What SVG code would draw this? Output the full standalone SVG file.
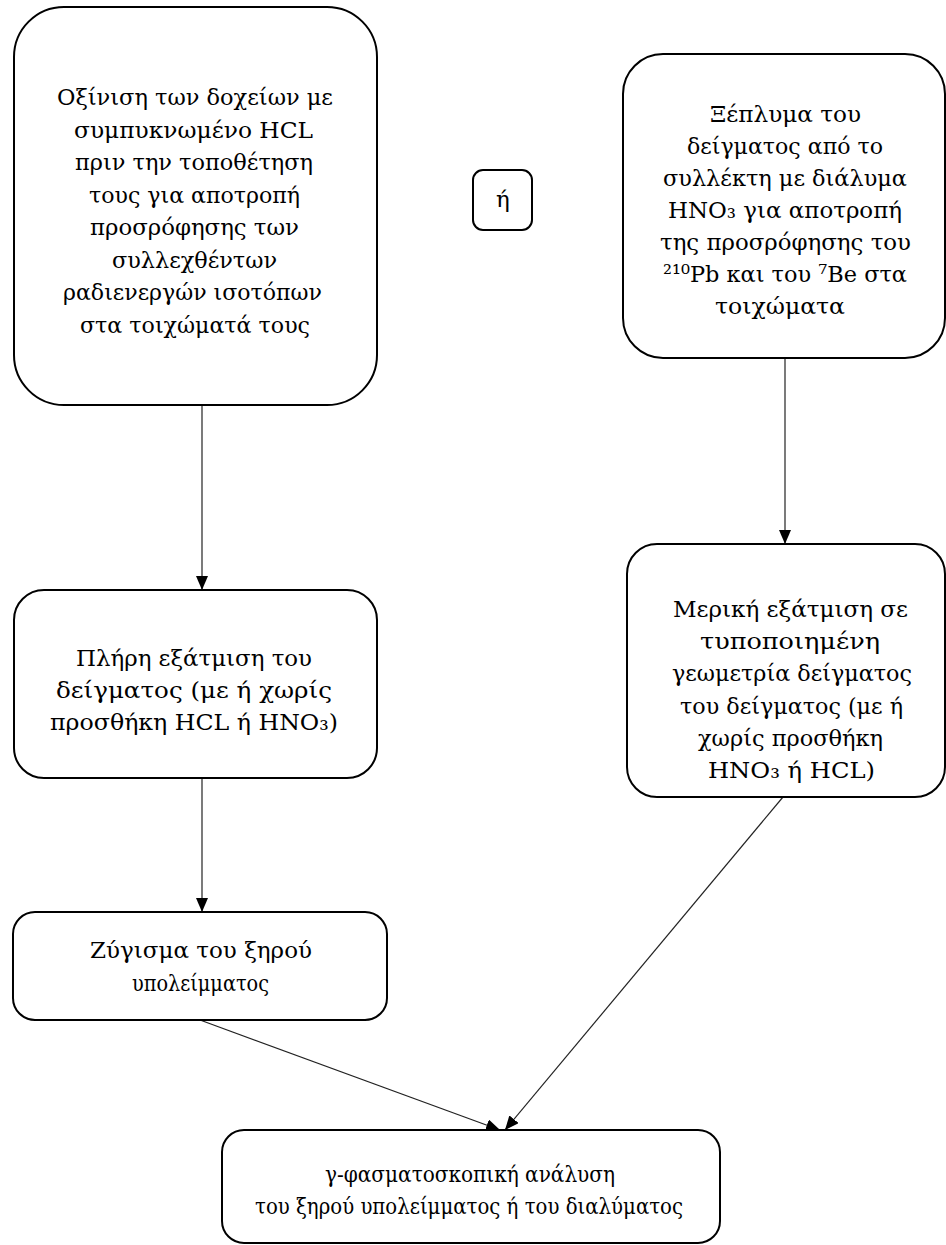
<svg xmlns="http://www.w3.org/2000/svg" width="946" height="1245" viewBox="0 0 946 1245">
<style>
.box{fill:#fff;stroke:#000;stroke-width:2}
.t{font-family:"DejaVu Serif","Liberation Serif",serif;font-size:23px;fill:#000}
.c{stroke:#222;stroke-width:1.2;fill:none}
</style>
<defs>
<marker id="arr" markerWidth="14" markerHeight="12" refX="14" refY="6" orient="auto" markerUnits="userSpaceOnUse">
<path d="M0,0 L14,6 L0,12 Z" fill="#000"/>
</marker>
</defs>
<rect width="946" height="1245" fill="#fff"/>
<g id="connectors">
<line class="c" x1="202" y1="405" x2="202" y2="590" marker-end="url(#arr)"/>
<line class="c" x1="785" y1="358" x2="785" y2="544" marker-end="url(#arr)"/>
<line class="c" x1="202" y1="778" x2="202" y2="912" marker-end="url(#arr)"/>
<line class="c" x1="200" y1="1020" x2="500" y2="1130" marker-end="url(#arr)"/>
<line class="c" x1="783" y1="797" x2="505" y2="1130" marker-end="url(#arr)"/>
</g>
<g id="n1">
<rect class="box" x="14" y="7" width="363" height="398" rx="50"/>
<text class="t" x="57" y="105" textLength="276" lengthAdjust="spacingAndGlyphs">Οξίνιση των δοχείων με</text>
<text class="t" x="74" y="137.5" textLength="239" lengthAdjust="spacingAndGlyphs">συμπυκνωμένο HCL</text>
<text class="t" x="75" y="170" textLength="238" lengthAdjust="spacingAndGlyphs">πριν την τοποθέτηση</text>
<text class="t" x="89" y="202.5" textLength="211" lengthAdjust="spacingAndGlyphs">τους για αποτροπή</text>
<text class="t" x="90" y="235" textLength="209" lengthAdjust="spacingAndGlyphs">προσρόφησης των</text>
<text class="t" x="112" y="267.5" textLength="165" lengthAdjust="spacingAndGlyphs">συλλεχθέντων</text>
<text class="t" x="63" y="300" textLength="259" lengthAdjust="spacingAndGlyphs">ραδιενεργών ισοτόπων</text>
<text class="t" x="80" y="332.5" textLength="230" lengthAdjust="spacingAndGlyphs">στα τοιχώματά τους</text>
</g>
<g id="n_or">
<rect class="box" x="473" y="170" width="59" height="60" rx="10"/>
<text class="t" x="503" y="207" text-anchor="middle">ή</text>
</g>
<g id="n2">
<rect class="box" x="623" y="54" width="322" height="304" rx="40"/>
<text class="t" x="710" y="122" textLength="151" lengthAdjust="spacingAndGlyphs">Ξέπλυμα του</text>
<text class="t" x="687" y="154" textLength="196" lengthAdjust="spacingAndGlyphs">δείγματος από το</text>
<text class="t" x="663" y="186" textLength="244" lengthAdjust="spacingAndGlyphs">συλλέκτη με διάλυμα</text>
<text class="t" x="668" y="218" textLength="234" lengthAdjust="spacingAndGlyphs">HNO₃ για αποτροπή</text>
<text class="t" x="660" y="250" textLength="251" lengthAdjust="spacingAndGlyphs">της προσρόφησης του</text>
<text class="t" x="663" y="282" textLength="244" lengthAdjust="spacingAndGlyphs">²¹⁰Pb και του ⁷Be στα</text>
<text class="t" x="715" y="314" textLength="130" lengthAdjust="spacingAndGlyphs">τοιχώματα</text>
</g>
<g id="n3">
<rect class="box" x="14" y="590" width="363" height="188" rx="30"/>
<text class="t" x="76" y="666" textLength="236" lengthAdjust="spacingAndGlyphs">Πλήρη εξάτμιση του</text>
<text class="t" x="56" y="698" textLength="276" lengthAdjust="spacingAndGlyphs">δείγματος (με ή χωρίς</text>
<text class="t" x="50" y="730" textLength="288" lengthAdjust="spacingAndGlyphs">προσθήκη HCL ή HNO₃)</text>
</g>
<g id="n4">
<rect class="box" x="627" y="544" width="318" height="253" rx="30"/>
<text class="t" x="673" y="617" textLength="235" lengthAdjust="spacingAndGlyphs">Μερική εξάτμιση σε</text>
<text class="t" x="700" y="649" textLength="180" lengthAdjust="spacingAndGlyphs">τυποποιημένη</text>
<text class="t" x="672" y="681" textLength="240" lengthAdjust="spacingAndGlyphs">γεωμετρία δείγματος</text>
<text class="t" x="680" y="714" textLength="223" lengthAdjust="spacingAndGlyphs">του δείγματος (με ή</text>
<text class="t" x="698" y="746" textLength="185" lengthAdjust="spacingAndGlyphs">χωρίς προσθήκη</text>
<text class="t" x="708" y="778" textLength="167" lengthAdjust="spacingAndGlyphs">HNO₃ ή HCL)</text>
</g>
<g id="n5">
<rect class="box" x="13" y="912" width="374" height="108" rx="22"/>
<text class="t" x="90" y="958" textLength="222" lengthAdjust="spacingAndGlyphs">Ζύγισμα του ξηρού</text>
<text class="t" x="132" y="991" textLength="137" lengthAdjust="spacingAndGlyphs">υπολείμματος</text>
</g>
<g id="n6">
<rect class="box" x="222" y="1130" width="498" height="113" rx="22"/>
<text class="t" x="325" y="1182" textLength="290" lengthAdjust="spacingAndGlyphs">γ-φασματοσκοπική ανάλυση</text>
<text class="t" x="255" y="1214" textLength="428" lengthAdjust="spacingAndGlyphs">του ξηρού υπολείμματος ή του διαλύματος</text>
</g>
</svg>
